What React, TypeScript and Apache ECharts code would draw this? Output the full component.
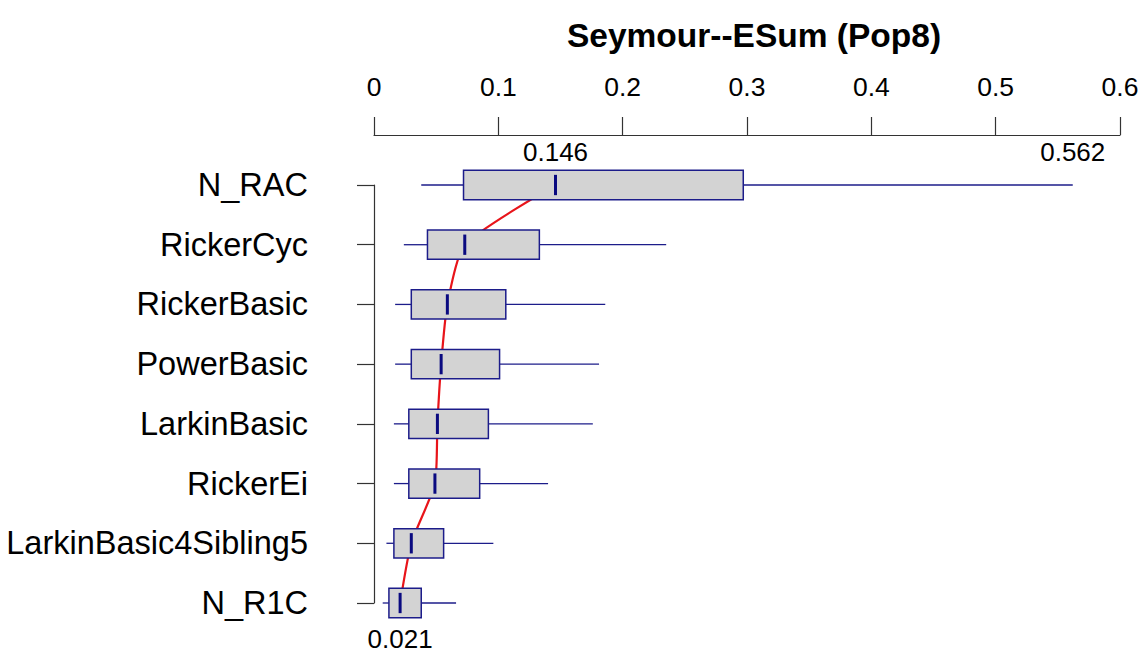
import React, { useEffect, useRef } from "react";
import * as echarts from "echarts";

const categories = [
  "N_RAC",
  "RickerCyc",
  "RickerBasic",
  "PowerBasic",
  "LarkinBasic",
  "RickerEi",
  "LarkinBasic4Sibling5",
  "N_R1C",
];
const mins = [0.038, 0.024, 0.017, 0.017, 0.016, 0.016, 0.010, 0.007];
const q1s = [0.072, 0.043, 0.030, 0.030, 0.028, 0.028, 0.016, 0.012];
const medians = [0.146, 0.073, 0.059, 0.054, 0.051, 0.049, 0.030, 0.021];
const q3s = [0.297, 0.133, 0.106, 0.101, 0.092, 0.085, 0.056, 0.038];
const maxs = [0.562, 0.235, 0.186, 0.181, 0.176, 0.140, 0.096, 0.066];

const xTicks = [0, 0.1, 0.2, 0.3, 0.4, 0.5, 0.6];
const titleText = "Seymour--ESum (Pop8)";

// annotations: [value, category index]
const topNotes = [
  [medians[0], 0],
  [maxs[0], 0],
];
const bottomNotes = [[medians[7], 7]];

const FONT = "'Liberation Sans', Arial, Helvetica, sans-serif";

export default function App() {
  const ref = useRef<HTMLDivElement>(null);

  useEffect(() => {
    document.body.style.margin = "0";
    if (!ref.current) return;
    const chart = echarts.init(ref.current, null, { renderer: "svg" });

    const boxData = categories.map((_, i) => [i, mins[i], q1s[i], medians[i], q3s[i], maxs[i]]);

    const noteLabel = (pos: string, dist: number) => ({
      show: true,
      position: pos,
      distance: dist,
      fontSize: 26,
      fontFamily: FONT,
      color: "#000",
      opacity: 1,
      textBorderWidth: 0,
      formatter: (p: any) => p.value[0].toFixed(3),
    });

    const option: any = {
      animation: false,
      backgroundColor: "#ffffff",
      title: {
        text: titleText,
        left: 749,
        top: 13,
        textAlign: "center",
        textStyle: { fontFamily: FONT, fontSize: 33.5, fontWeight: "bold", color: "#000" },
      },
      grid: { left: 374, right: 25, top: 185, bottom: 51, containLabel: false },
      xAxis: {
        type: "value",
        position: "top",
        offset: 50,
        min: xTicks[0],
        max: xTicks[xTicks.length - 1],
        interval: 0.1,
        axisLine: { show: true, lineStyle: { color: "#333", width: 1.2 } },
        axisTick: { show: true, length: 18, lineStyle: { color: "#333", width: 1.2 } },
        axisLabel: {
          show: true,
          margin: 35,
          fontSize: 26.5,
          fontFamily: FONT,
          color: "#000",
          formatter: (v: number) => String(Math.round(v * 10) / 10),
        },
        splitLine: { show: false },
      },
      yAxis: {
        type: "category",
        data: categories,
        inverse: true,
        boundaryGap: false,
        position: "left",
        offset: 30,
        axisLine: { show: true, lineStyle: { color: "#333", width: 1.2 } },
        axisTick: { show: true, length: 17, lineStyle: { color: "#333", width: 1.2 } },
        axisLabel: { margin: 36, fontSize: 32.5, fontFamily: FONT, color: "#000" },
        splitLine: { show: false },
      },
      series: [
        {
          type: "line",
          data: medians.map((m, i) => [m, i]),
          smooth: 0.2,
          symbol: "none",
          clip: false,
          z: 1,
          lineStyle: { color: "#e8141a", width: 2.2 },
        },
        {
          type: "custom",
          z: 3,
          clip: false,
          encode: { x: [1, 2, 3, 4, 5], y: 0 },
          data: boxData,
          renderItem: (params: any, api: any) => {
            const cat = api.value(0);
            const pMin = api.coord([api.value(1), cat]);
            const pQ1 = api.coord([api.value(2), cat]);
            const pMed = api.coord([api.value(3), cat]);
            const pQ3 = api.coord([api.value(4), cat]);
            const pMax = api.coord([api.value(5), cat]);
            const band = api.size([0, 1])[1];
            const halfBox = band * 0.245;
            const halfMed = band * 0.17;
            const cy = pMed[1];
            const stroke = "#1c1c8a";
            return {
              type: "group",
              children: [
                {
                  type: "line",
                  shape: { x1: pMin[0], y1: cy, x2: pQ1[0], y2: cy },
                  style: { stroke, lineWidth: 1.3 },
                },
                {
                  type: "line",
                  shape: { x1: pQ3[0], y1: cy, x2: pMax[0], y2: cy },
                  style: { stroke, lineWidth: 1.3 },
                },
                {
                  type: "rect",
                  shape: { x: pQ1[0], y: cy - halfBox, width: pQ3[0] - pQ1[0], height: 2 * halfBox },
                  style: { fill: "#d3d3d3", stroke, lineWidth: 1.5 },
                },
                {
                  type: "line",
                  shape: { x1: pMed[0], y1: cy - halfMed, x2: pMed[0], y2: cy + halfMed },
                  style: { stroke: "#0a0a80", lineWidth: 3 },
                },
              ],
            };
          },
        },
        {
          type: "scatter",
          data: topNotes,
          symbolSize: 0,
          clip: false,
          z: 4,
          silent: true,
          itemStyle: { opacity: 1 },
          label: noteLabel("top", 20),
        },
        {
          type: "scatter",
          data: bottomNotes,
          symbolSize: 0,
          clip: false,
          z: 4,
          silent: true,
          itemStyle: { opacity: 1 },
          label: noteLabel("bottom", 23),
        },
      ],
    };

    chart.setOption(option);
    return () => chart.dispose();
  }, []);

  return <div ref={ref} style={{ width: 1145, height: 654 }} />;
}
